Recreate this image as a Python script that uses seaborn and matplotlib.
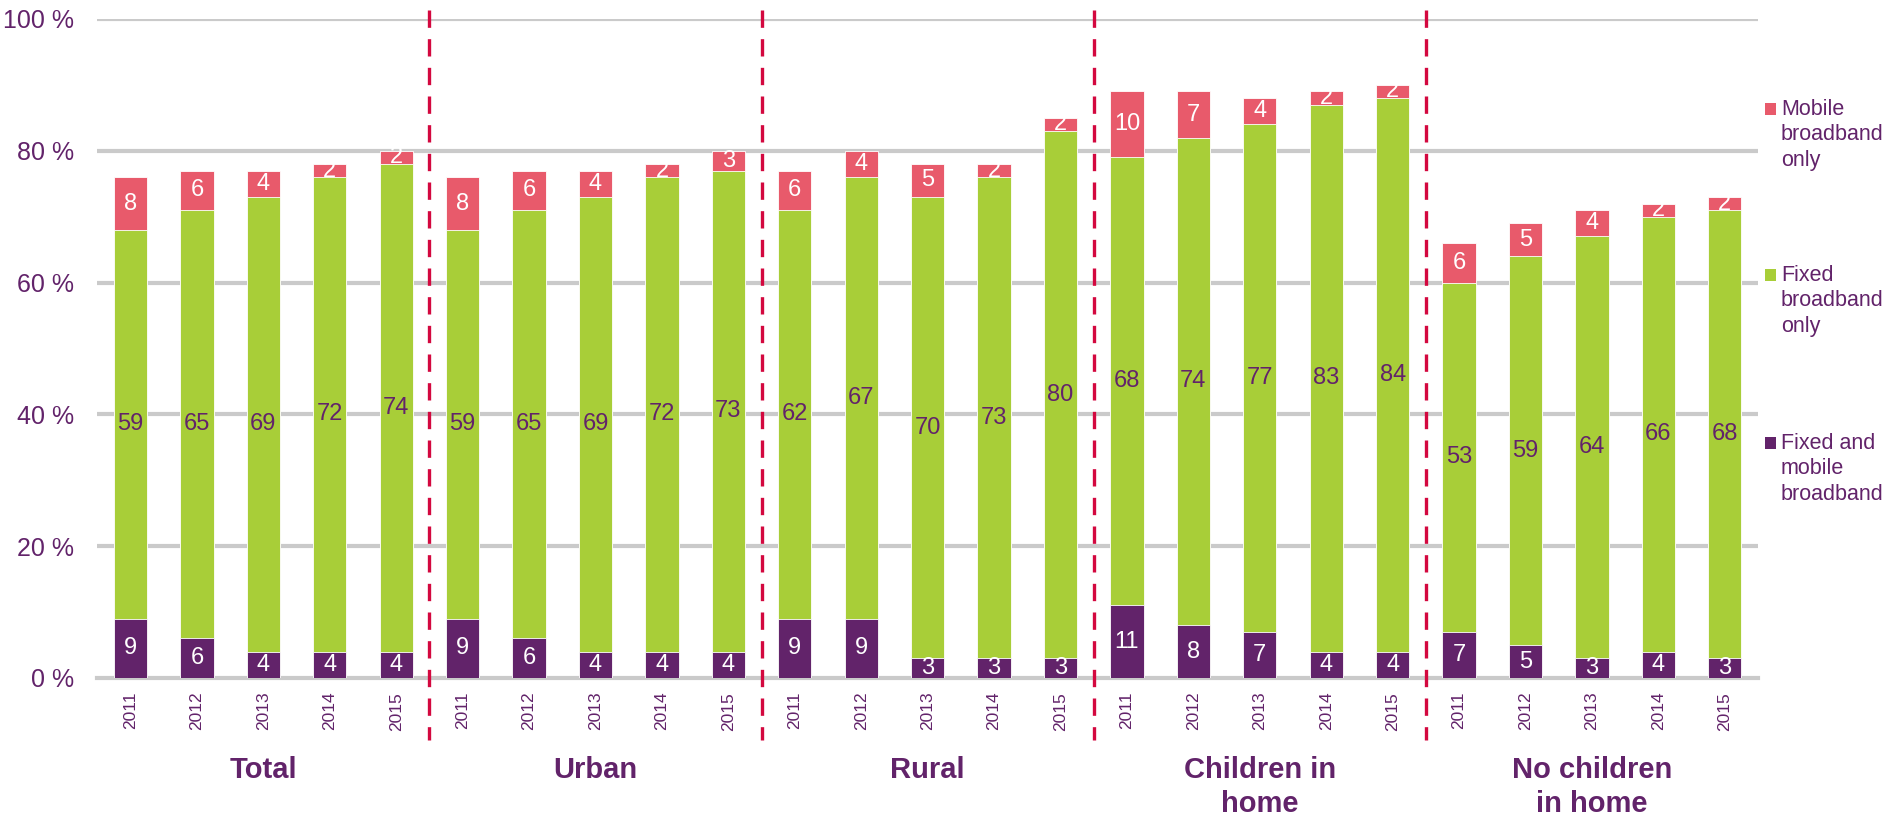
import matplotlib
matplotlib.use("Agg")
import matplotlib.pyplot as plt
from matplotlib.patches import Rectangle
import numpy as np
import pandas as pd
import seaborn as sns

# ---- data -------------------------------------------------------------
groups = ["Total", "Urban", "Rural", "Children in\nhome", "No children\nin home"]
years = ["2011", "2012", "2013", "2014", "2015"]

fixed_and_mobile = [9, 6, 4, 4, 4,
                    9, 6, 4, 4, 4,
                    9, 9, 3, 3, 3,
                    11, 8, 7, 4, 4,
                    7, 5, 3, 4, 3]
fixed_only = [59, 65, 69, 72, 74,
              59, 65, 69, 72, 73,
              62, 67, 70, 73, 80,
              68, 74, 77, 83, 84,
              53, 59, 64, 66, 68]
mobile_only = [8, 6, 4, 2, 2,
               8, 6, 4, 2, 3,
               6, 4, 5, 2, 2,
               10, 7, 4, 2, 2,
               6, 5, 4, 2, 2]

series_names = ["Fixed and\nmobile\nbroadband", "Fixed\nbroadband\nonly", "Mobile\nbroadband\nonly"]
y_ticks = [0, 20, 40, 60, 80, 100]

# ---- styling ----------------------------------------------------------
PURPLE = "#62236A"
GREEN = "#A8CE38"
PINK = "#E85A6B"
CRIMSON = "#D3083F"
GRID = "#CACACA"

sns.set_theme(style="white")
plt.rcParams["font.family"] = ["Liberation Sans", "DejaVu Sans"]

slots = [f"{g}|{y}" for g in groups for y in years]
df = pd.DataFrame({
    "slot": slots,
    "both": fixed_and_mobile,
    "fixed": fixed_only,
    "mobile": mobile_only,
})
df["fixed_top"] = df["both"] + df["fixed"]
df["total"] = df["fixed_top"] + df["mobile"]

fig = plt.figure(figsize=(18.93, 8.22), dpi=100)
ax = fig.add_axes([0.0514, 0.1752, 0.8773, 0.8017])

# stacked bars, drawn as overlapping cumulative layers
common = dict(data=df, x="slot", order=slots, width=0.5, saturation=1,
              errorbar=None, ax=ax, edgecolor="white", linewidth=0.6, zorder=3)
sns.barplot(y="total", color=PINK, **common)
sns.barplot(y="fixed_top", color=GREEN, **common)
sns.barplot(y="both", color=PURPLE, **common)

# segment value labels
LABEL_SIZE = 17
for i, row in df.iterrows():
    ax.text(i, row["both"] / 2, f"{row['both']}", ha="center", va="center",
            color="white", fontsize=LABEL_SIZE, zorder=5)
    ax.text(i, row["both"] + row["fixed"] / 2, f"{row['fixed']}", ha="center",
            va="center", color=PURPLE, fontsize=LABEL_SIZE, zorder=5)
    ax.text(i, row["fixed_top"] + row["mobile"] / 2, f"{row['mobile']}",
            ha="center", va="center", color="white", fontsize=LABEL_SIZE, zorder=5)

# axes
ax.set_ylim(0, 100)
ax.set_xlim(-0.5, len(slots) - 0.5)
ax.set_yticks(y_ticks)
ax.set_yticklabels([f"{v} %" for v in y_ticks], color=PURPLE, fontsize=18)
ax.tick_params(axis="y", length=0, pad=17)
for v in y_ticks[1:]:
    ax.axhline(v, color=GRID, lw=3.0, zorder=1)

ax.set_xticks(range(len(slots)))
ax.set_xticklabels(years * len(groups), rotation=90, color=PURPLE, fontsize=12.5)
ax.tick_params(axis="x", which="major", length=0, pad=10)
ax.set_xticks(np.arange(-0.5, len(slots), 1.0), minor=True)
ax.tick_params(axis="x", which="minor", length=4, width=2.4, color=GRID,
               direction="out")
ax.set_xlabel("")
ax.set_ylabel("")

for side in ["top", "right", "left"]:
    ax.spines[side].set_visible(False)
ax.spines["bottom"].set_color(GRID)
ax.spines["bottom"].set_linewidth(3.0)
ax.spines["bottom"].set_zorder(2)

# group separators
for k in range(1, len(groups)):
    xb = k * len(years) - 0.5
    ax.plot([xb, xb], [101.4, -9.4], color=CRIMSON, lw=2.4,
            linestyle=(0, (5.2, 3.4)), clip_on=False, zorder=4)

# group names under the year labels
for k, g in enumerate(groups):
    ax.text(k * len(years) + 2, -0.118, g, transform=ax.get_xaxis_transform(),
            ha="center", va="top", fontsize=21, fontweight="bold",
            color=PURPLE, linespacing=1.27)

# legend, top entry first
W, H = 1893, 822
legend_items = [(series_names[2], PINK, 103), (series_names[1], GREEN, 269),
                (series_names[0], PURPLE, 437)]
for label, col, top in legend_items:
    fig.add_artist(Rectangle((1765 / W, 1 - (top + 12) / H),
                             11 / W, 12 / H, transform=fig.transFigure,
                             facecolor=col, edgecolor="none"))
    fig.text(1781 / W, 1 - (top - 4) / H, label, ha="left", va="top",
             fontsize=15.5, color=PURPLE, linespacing=1.27)

fig.savefig("out.png", dpi=100)
